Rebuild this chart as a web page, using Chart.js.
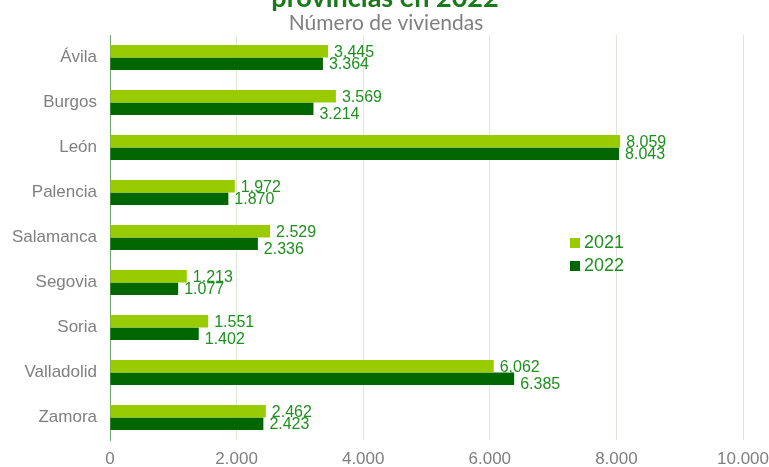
<!DOCTYPE html>
<html>
<head>
<meta charset="utf-8">
<script src="https://cdn.jsdelivr.net/npm/chart.js@4"></script>
<style>
  body { margin: 0; background: #fff; }
  #wrap { width: 769px; height: 467px; }
</style>
</head>
<body>
<div id="wrap"><canvas id="barChart" width="769" height="467"></canvas></div>
<script>
const provincias = ['Ávila', 'Burgos', 'León', 'Palencia', 'Salamanca', 'Segovia', 'Soria', 'Valladolid', 'Zamora'];
const viviendas2021 = [3445, 3569, 8059, 1972, 2529, 1213, 1551, 6062, 2462];
const viviendas2022 = [3364, 3214, 8043, 1870, 2336, 1077, 1402, 6385, 2423];
const seriesNames = ['2021', '2022'];
const xTicks = [0, 2000, 4000, 6000, 8000, 10000];

const LIGHT = '#99cc00';
const DARK = '#006600';
const LABEL_GREEN = '#1f8f1f';
const GREY = '#7f7f7f';

const fmt = v => v.toLocaleString('de-DE');

// title (top line is cut off by the canvas edge) and subtitle
const titlePlugin = {
  id: 'titles',
  afterDraw(chart) {
    const ctx = chart.ctx;
    ctx.save();
    ctx.textAlign = 'center';
    ctx.textBaseline = 'alphabetic';
    ctx.fillStyle = '#1a7a1a';
    ctx.font = 'bold 27px Lato';
    ctx.fillText('provincias en 2022', 385, 7);
    ctx.fillStyle = GREY;
    ctx.font = '21px Lato';
    ctx.fillText('Número de viviendas', 386, 30);
    ctx.restore();
  }
};

// value labels at the end of every bar
const valueLabels = {
  id: 'valueLabels',
  afterDatasetsDraw(chart) {
    const ctx = chart.ctx;
    ctx.save();
    ctx.font = '16px "Liberation Sans"';
    ctx.fillStyle = LABEL_GREEN;
    ctx.textAlign = 'left';
    ctx.textBaseline = 'middle';
    chart.data.datasets.forEach((ds, i) => {
      chart.getDatasetMeta(i).data.forEach((bar, j) => {
        let dy = 1;
        if (i === 1) {
          const diff = Math.abs(viviendas2021[j] - viviendas2022[j]);
          dy = diff > 140 ? 6 : 1;
        }
        ctx.fillText(fmt(ds.data[j]), bar.x + 6, bar.y + dy);
      });
    });
    ctx.restore();
  }
};

// legend inside the plot, right side
const sideLegend = {
  id: 'sideLegend',
  afterDraw(chart) {
    const ctx = chart.ctx;
    const colors = [LIGHT, DARK];
    ctx.save();
    ctx.font = '18px "Liberation Sans"';
    ctx.textBaseline = 'middle';
    ctx.textAlign = 'left';
    seriesNames.forEach((name, i) => {
      const y = 243 + i * 23;
      ctx.fillStyle = colors[i];
      ctx.fillRect(570, y - 5, 10, 10);
      ctx.fillStyle = LABEL_GREEN;
      ctx.fillText(name, 584, y);
    });
    ctx.restore();
  }
};

new Chart(document.getElementById('barChart').getContext('2d'), {
  type: 'bar',
  data: {
    labels: provincias,
    datasets: [
      { label: seriesNames[0], data: viviendas2021, backgroundColor: LIGHT },
      { label: seriesNames[1], data: viviendas2022, backgroundColor: DARK }
    ]
  },
  options: {
    indexAxis: 'y',
    responsive: false,
    animation: false,
    datasets: { bar: { categoryPercentage: 0.56, barPercentage: 1.0 } },
    layout: { padding: { top: 35, right: 26, left: 0, bottom: 0 } },
    plugins: { legend: { display: false }, tooltip: { enabled: false } },
    scales: {
      x: {
        min: 0,
        max: 10000,
        afterBuildTicks(scale) { scale.ticks = xTicks.map(v => ({ value: v })); },
        afterFit(scale) {
          scale.height = 27;
          scale.paddingLeft = 0;
          scale.paddingRight = 0;
        },
        grid: { color: '#d9e8d9', drawTicks: false },
        border: { display: false },
        ticks: {
          color: GREY,
          font: { family: 'Liberation Sans', size: 17 },
          padding: 9,
          callback: v => fmt(v)
        }
      },
      y: {
        afterFit(scale) { scale.width = 110; },
        grid: { display: false, drawTicks: false },
        border: { display: true, color: '#6fa86f', width: 1 },
        ticks: {
          color: GREY,
          font: { family: 'Liberation Sans', size: 17 },
          padding: 13
        }
      }
    }
  },
  plugins: [titlePlugin, valueLabels, sideLegend]
});
</script>
</body>
</html>
